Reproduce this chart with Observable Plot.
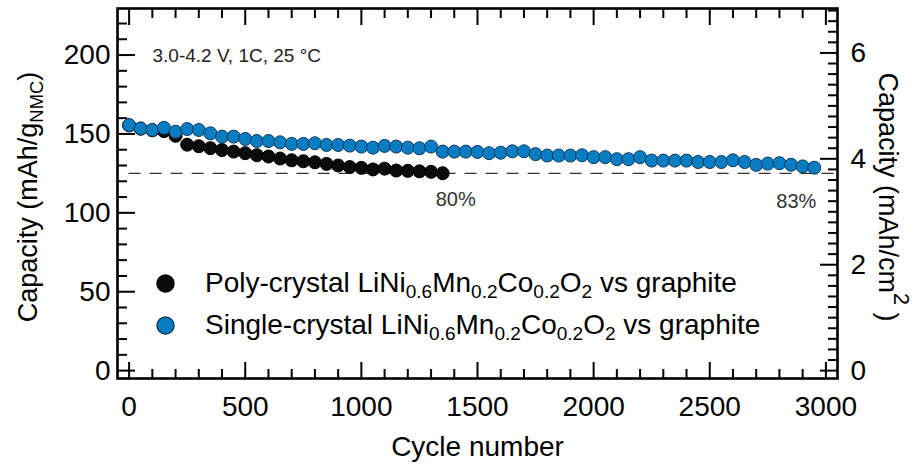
<!DOCTYPE html>
<html><head><meta charset="utf-8">
<script src="https://cdn.jsdelivr.net/npm/d3@7"></script>
<script src="https://cdn.jsdelivr.net/npm/@observablehq/plot@0.6"></script>
<style>
body{margin:0;background:#fff;}
#chart{width:917px;height:467px;}
svg text{font-family:"Liberation Sans",Arial,sans-serif;}
</style></head><body><div id="chart"></div>
<script>
// ---- data ----
const singleCycles = [0,50,100,150,200,250,300,350,400,450,500,550,600,650,700,750,800,850,900,950,
  1000,1050,1100,1150,1200,1250,1300,1350,1400,1450,1500,1550,1600,1650,1700,1750,1800,1850,1900,1950,
  2000,2050,2100,2150,2200,2250,2300,2350,2400,2450,2500,2550,2600,2650,2700,2750,2800,2850,2900,2950];
const singleCapacity = [155.6,153.5,152.5,153.9,151.4,153.1,152.5,150.4,148.3,148.3,146.8,145.5,145.5,144.7,143.7,143.7,144.1,143.0,143.0,142.6,
  142.0,141.3,142.4,142.0,141.3,140.9,142.0,138.8,138.8,138.8,138.6,137.8,138.1,139.0,139.0,137.2,136.3,136.3,136.3,136.5,
  135.3,135.3,134.0,134.0,135.3,133.1,133.1,133.1,133.1,132.2,132.2,132.2,133.3,132.2,130.4,131.2,131.5,130.5,129.4,128.6];
const polyCycles = [0,50,100,150,200,250,300,350,400,450,500,550,600,650,700,750,800,850,900,950,
  1000,1050,1100,1150,1200,1250,1300,1350];
const polyCapacity = [155.4,153.3,152.3,151.8,148.8,143.2,142.2,141.0,139.8,138.8,137.8,136.5,135.7,134.4,133.3,132.7,132.0,131.0,130.0,129.0,
  128.5,127.5,128.0,126.8,126.6,126.3,126.0,125.1];
const retentionLevel = 125;        // dashed reference line, mAh/g
const retentionLabels = ["80%", "83%"];
const xTicks = [0,500,1000,1500,2000,2500,3000];
const leftTicks = [0,50,100,150,200];
const rightTicks = [0,2,4,6];      // mAh/cm2
const areaPerGram = 0.0298;        // mAh/cm2 per mAh/g (right axis conversion)
const seriesNames = ["Poly-crystal", "Single-crystal"];
const conditionText = "3.0-4.2 V, 1C, 25 \u00B0C";
const xTitle = "Cycle number";

const blue = "#0a7cc2", blueEdge = "#0d3a5c", black = "#0b0b0b";
const polyData = polyCycles.map((c, i) => ({cycle: c, cap: polyCapacity[i]}));
const singleData = singleCycles.map((c, i) => ({cycle: c, cap: singleCapacity[i]}));

const xMinor = d3.range(0, 3001, 100).filter(v => v % 500 !== 0);
const yMinor = d3.range(0, 230, 10).filter(v => v % 50 !== 0);
const rMinor = d3.range(0, 6.9, 0.2).map(v => +v.toFixed(1)).filter(v => Math.abs(v % 2) > 1e-6 && Math.abs(v % 2 - 2) > 1e-6);
const toLeft = v => v / areaPerGram;

const W = 917, H = 467, FS = 28;
const tickStyle = {stroke: "black", strokeWidth: 2, tickFormat: () => "", label: null};
const plot = Plot.plot({
  width: W, height: H,
  marginLeft: 117, marginRight: 80, marginTop: 8, marginBottom: 89,
  x: {domain: [-50, 3050], axis: null},
  y: {domain: [-5, 229.5], axis: null},
  style: {fontFamily: "Liberation Sans, Arial, sans-serif", background: "white", color: "black", overflow: "visible"},
  marks: [
    // ticks (inward)
    Plot.axisX(xTicks, {anchor: "bottom", tickSize: -16, ...tickStyle}),
    Plot.axisX(xMinor, {anchor: "bottom", tickSize: -9, ...tickStyle}),
    Plot.axisX(xTicks, {anchor: "top", tickSize: -16, ...tickStyle}),
    Plot.axisX(xMinor, {anchor: "top", tickSize: -9, ...tickStyle}),
    Plot.axisY(leftTicks, {anchor: "left", tickSize: -18, ...tickStyle}),
    Plot.axisY(yMinor, {anchor: "left", tickSize: -10, ...tickStyle}),
    Plot.axisY(rightTicks.map(toLeft), {anchor: "right", tickSize: -18, ...tickStyle}),
    Plot.axisY(rMinor.map(toLeft), {anchor: "right", tickSize: -10, ...tickStyle}),
    // tick labels
    Plot.axisX(xTicks, {anchor: "bottom", tickSize: 0, tickPadding: 18, fontSize: FS, label: null, tickFormat: d => String(d)}),
    Plot.axisY(leftTicks, {anchor: "left", tickSize: 0, tickPadding: 7, fontSize: FS, label: null, tickFormat: d => String(d)}),
    Plot.axisY(rightTicks.map(toLeft), {anchor: "right", tickSize: 0, tickPadding: 13, fontSize: FS, label: null, tickFormat: d => String(Math.round(d * areaPerGram))}),
    Plot.text([xTitle], {frameAnchor: "bottom", dy: 69, fontSize: FS, lineAnchor: "middle"}),
    // reference line
    Plot.ruleY([retentionLevel], {x1: singleCycles[0], x2: 3050, stroke: "#333", strokeWidth: 1.4, strokeDasharray: "12,9"}),
    // data
    Plot.dot(polyData, {x: "cycle", y: "cap", r: 6.5, fill: black, stroke: "#000", strokeWidth: 1}),
    Plot.dot(singleData, {x: "cycle", y: "cap", r: 6.5, fill: blue, stroke: blueEdge, strokeWidth: 1}),
    // annotations
    Plot.text([retentionLabels[0]], {x: polyCycles[polyCycles.length - 1], y: retentionLevel, dx: 13, dy: 26, fontSize: 20, fill: "#333"}),
    Plot.text([retentionLabels[1]], {x: singleCycles[singleCycles.length - 1], y: retentionLevel, dx: -18, dy: 28, fontSize: 20, fill: "#333"}),
    Plot.text([conditionText], {frameAnchor: "top-left", dx: 35, dy: 47, fontSize: 19, textAnchor: "start", lineAnchor: "middle", fill: "#222"}),
    // legend symbols
    Plot.dot([seriesNames[0]], {x: null, y: null, frameAnchor: "top-left", dx: 48, dy: 275, r: 8.5, fill: black, stroke: "#000"}),
    Plot.dot([seriesNames[1]], {x: null, y: null, frameAnchor: "top-left", dx: 48, dy: 317, r: 8.5, fill: blue, stroke: blueEdge}),
    Plot.frame({stroke: "black", strokeWidth: 2.6})
  ]
});
document.getElementById("chart").appendChild(plot);

// ---- rich text (sub/superscripts) ----
const svg = d3.select(plot);
function rich(x, y, rotate, size, anchor, parts) {
  const t = svg.append("text")
    .attr("transform", `translate(${x},${y}) rotate(${rotate})`)
    .attr("text-anchor", anchor).attr("dominant-baseline", "middle")
    .attr("font-size", size).attr("fill", "black")
    .style("font-family", "Liberation Sans, Arial, sans-serif");
  let shift = 0;
  for (const [s, kind] of parts) {
    const target = kind === "sub" ? 0.3 * size : kind === "sup" ? -0.5 * size : 0;
    const ts = t.append("tspan").text(s).attr("dy", target - shift);
    if (kind) ts.attr("font-size", kind === "sub" ? size * 0.68 : size * 0.8);
    shift = target;
  }
  return t;
}
const formula = (prefix) => [[prefix + " LiNi"], ["0.6", "sub"], ["Mn"], ["0.2", "sub"], ["Co"], ["0.2", "sub"], ["O"], ["2", "sub"], [" vs graphite"]];
rich(205, 285, 0, 28, "start", formula(seriesNames[0]));
rich(205, 327, 0, 28, "start", formula(seriesNames[1]));
rich(30, 197, -90, 27, "middle", [["Capacity (mAh/g"], ["NMC", "sub"], [")"]]);
rich(886, 197, 90, 27, "middle", [["Capacity (mAh/cm"], ["2", "sup"], [" )"]]);
</script></body></html>
